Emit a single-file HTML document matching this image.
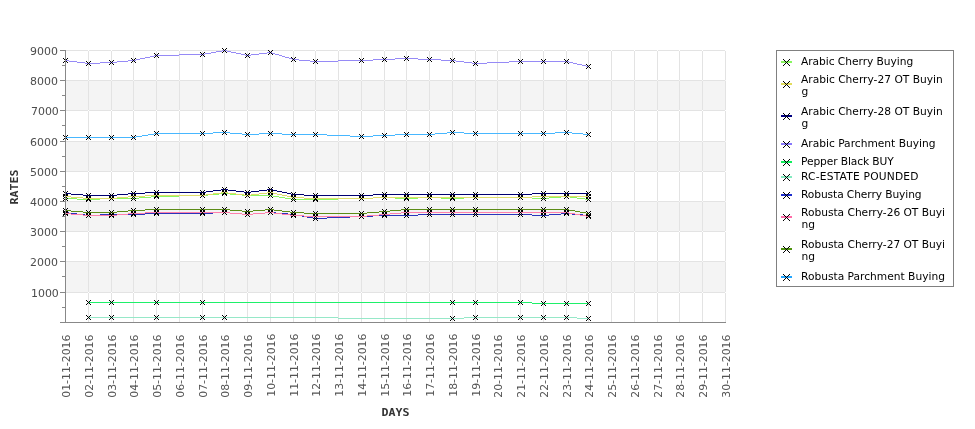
<!DOCTYPE html>
<html lang="en">
<head>
<meta charset="utf-8">
<title>Rates chart</title>
<style>
html,body{margin:0;padding:0;background:#fff;}
body{width:975px;height:429px;overflow:hidden;}
svg{display:block;}
.tick{font-family:"DejaVu Sans","Liberation Sans",sans-serif;font-size:10.67px;fill:#4c4c4c;}
.xt{fill:#545454;}
.leg{font-family:"DejaVu Sans","Liberation Sans",sans-serif;font-size:10.67px;fill:#000;}
.ttl{font-family:"DejaVu Sans Mono","Liberation Mono",monospace;font-weight:bold;font-size:11px;fill:#333;}
</style>
</head>
<body>
<svg width="975" height="429" viewBox="0 0 975 429">
<rect width="975" height="429" fill="#fff"/>

<g shape-rendering="crispEdges">
<rect x="65" y="261" width="661" height="31" fill="#f4f4f4"/>
<rect x="65" y="201" width="661" height="30" fill="#f4f4f4"/>
<rect x="65" y="141" width="661" height="30" fill="#f4f4f4"/>
<rect x="65" y="80" width="661" height="30" fill="#f4f4f4"/>
<path d="M65 322h661v1h-661zM65 292h661v1h-661zM65 261h661v1h-661zM65 231h661v1h-661zM65 201h661v1h-661zM65 171h661v1h-661zM65 141h661v1h-661zM65 110h661v1h-661zM65 80h661v1h-661zM65 50h661v1h-661zM65 50v272h1v-272zM88 50v272h1v-272zM111 50v272h1v-272zM133 50v272h1v-272zM156 50v272h1v-272zM179 50v272h1v-272zM202 50v272h1v-272zM224 50v272h1v-272zM247 50v272h1v-272zM270 50v272h1v-272zM293 50v272h1v-272zM315 50v272h1v-272zM338 50v272h1v-272zM361 50v272h1v-272zM384 50v272h1v-272zM406 50v272h1v-272zM429 50v272h1v-272zM452 50v272h1v-272zM475 50v272h1v-272zM497 50v272h1v-272zM520 50v272h1v-272zM543 50v272h1v-272zM566 50v272h1v-272zM588 50v272h1v-272zM611 50v272h1v-272zM634 50v272h1v-272zM657 50v272h1v-272zM679 50v272h1v-272zM702 50v272h1v-272zM725 50v272h1v-272z" fill="#e3e3e3"/>
<defs><path id="m" d="M-2 -2h1v1h-1zM-1 -1h1v1h-1zM0 0h1v1h-1zM1 1h1v1h-1zM2 2h1v1h-1zM2 -2h1v1h-1zM1 -1h1v1h-1zM-1 1h1v1h-1zM-2 2h1v1h-1z" fill="#000"/><path id="M" d="M-3 -3h1v1h-1zM-2 -2h1v1h-1zM-1 -1h1v1h-1zM0 0h1v1h-1zM1 1h1v1h-1zM2 2h1v1h-1zM3 3h1v1h-1zM3 -3h1v1h-1zM2 -2h1v1h-1zM1 -1h1v1h-1zM-1 1h1v1h-1zM-2 2h1v1h-1zM-3 3h1v1h-1z" fill="#000"/></defs>
<path d="M65 198h12v1h-12zM77 199h23v1h-23zM100 198h39v1h-39zM139 197h12v1h-12zM151 196h28v1h-28zM179 195h29v1h-29zM208 194h11v1h-11zM219 193h11v1h-11zM230 194h12v1h-12zM242 195h31v1h-31zM273 196h6v1h-6zM279 197h6v1h-6zM285 198h6v1h-6zM291 199h47v1h-47zM338 198h35v1h-35zM373 197h22v1h-22zM395 198h23v1h-23zM418 197h23v1h-23zM441 198h23v1h-23zM464 197h68v1h-68zM532 198h17v1h-17zM549 197h12v1h-12zM561 196h9v1h-9zM570 197h7v1h-7zM577 198h8v1h-8zM585 199h4v1h-4z" fill="#8cf864"/>
<use href="#m" x="65" y="198"/>
<use href="#m" x="88" y="199"/>
<use href="#m" x="111" y="198"/>
<use href="#m" x="133" y="198"/>
<use href="#m" x="156" y="196"/>
<use href="#m" x="202" y="195"/>
<use href="#m" x="224" y="193"/>
<use href="#m" x="247" y="195"/>
<use href="#m" x="270" y="195"/>
<use href="#m" x="293" y="199"/>
<use href="#m" x="315" y="199"/>
<use href="#m" x="361" y="198"/>
<use href="#m" x="384" y="197"/>
<use href="#m" x="406" y="198"/>
<use href="#m" x="429" y="197"/>
<use href="#m" x="452" y="198"/>
<use href="#m" x="475" y="197"/>
<use href="#m" x="520" y="197"/>
<use href="#m" x="543" y="198"/>
<use href="#m" x="566" y="196"/>
<use href="#m" x="588" y="199"/>
<path d="M65 196h6v1h-6zM71 197h12v1h-12zM83 198h34v1h-34zM117 197h11v1h-11zM128 196h17v1h-17zM145 195h61v1h-61zM206 194h7v1h-7zM213 193h8v1h-8zM221 192h7v1h-7zM228 193h8v1h-8zM236 194h8v1h-8zM244 195h7v1h-7zM251 194h8v1h-8zM259 193h8v1h-8zM267 192h6v1h-6zM273 193h4v1h-4zM277 194h5v1h-5zM282 195h5v1h-5zM287 196h4v1h-4zM291 197h13v1h-13zM304 198h69v1h-69zM373 197h159v1h-159zM532 196h57v1h-57z" fill="#e0dc6a"/>
<use href="#m" x="65" y="196"/>
<use href="#m" x="88" y="198"/>
<use href="#m" x="111" y="198"/>
<use href="#m" x="133" y="196"/>
<use href="#m" x="156" y="195"/>
<use href="#m" x="202" y="195"/>
<use href="#m" x="224" y="192"/>
<use href="#m" x="247" y="195"/>
<use href="#m" x="270" y="192"/>
<use href="#m" x="293" y="197"/>
<use href="#m" x="315" y="198"/>
<use href="#m" x="361" y="198"/>
<use href="#m" x="384" y="197"/>
<use href="#m" x="406" y="197"/>
<use href="#m" x="429" y="197"/>
<use href="#m" x="452" y="197"/>
<use href="#m" x="475" y="197"/>
<use href="#m" x="520" y="197"/>
<use href="#m" x="543" y="196"/>
<use href="#m" x="566" y="196"/>
<use href="#m" x="588" y="196"/>
<path d="M65 193h6v1h-6zM71 194h12v1h-12zM83 195h34v1h-34zM117 194h11v1h-11zM128 193h17v1h-17zM145 192h61v1h-61zM206 191h7v1h-7zM213 190h8v1h-8zM221 189h7v1h-7zM228 190h8v1h-8zM236 191h8v1h-8zM244 192h7v1h-7zM251 191h8v1h-8zM259 190h8v1h-8zM267 189h6v1h-6zM273 190h4v1h-4zM277 191h5v1h-5zM282 192h5v1h-5zM287 193h4v1h-4zM291 194h13v1h-13zM304 195h69v1h-69zM373 194h159v1h-159zM532 193h57v1h-57z" fill="#000070"/>
<use href="#m" x="65" y="193"/>
<use href="#m" x="88" y="195"/>
<use href="#m" x="111" y="195"/>
<use href="#m" x="133" y="193"/>
<use href="#m" x="156" y="192"/>
<use href="#m" x="202" y="192"/>
<use href="#m" x="224" y="189"/>
<use href="#m" x="247" y="192"/>
<use href="#m" x="270" y="189"/>
<use href="#m" x="293" y="194"/>
<use href="#m" x="315" y="195"/>
<use href="#m" x="361" y="195"/>
<use href="#m" x="384" y="194"/>
<use href="#m" x="406" y="194"/>
<use href="#m" x="429" y="194"/>
<use href="#m" x="452" y="194"/>
<use href="#m" x="475" y="194"/>
<use href="#m" x="520" y="194"/>
<use href="#m" x="543" y="193"/>
<use href="#m" x="566" y="193"/>
<use href="#m" x="588" y="193"/>
<path d="M65 60h4v1h-4zM69 61h8v1h-8zM77 62h8v1h-8zM85 63h15v1h-15zM100 62h17v1h-17zM117 61h11v1h-11zM128 60h8v1h-8zM136 59h4v1h-4zM140 58h5v1h-5zM145 57h5v1h-5zM150 56h4v1h-4zM154 55h25v1h-25zM179 54h26v1h-26zM205 53h6v1h-6zM211 52h5v1h-5zM216 51h6v1h-6zM222 50h5v1h-5zM227 51h4v1h-4zM231 52h5v1h-5zM236 53h5v1h-5zM241 54h4v1h-4zM245 55h6v1h-6zM251 54h8v1h-8zM259 53h8v1h-8zM267 52h5v1h-5zM272 53h3v1h-3zM275 54h4v1h-4zM279 55h3v1h-3zM282 56h3v1h-3zM285 57h4v1h-4zM289 58h3v1h-3zM292 59h7v1h-7zM299 60h11v1h-11zM310 61h28v1h-28zM338 60h35v1h-35zM373 59h22v1h-22zM395 58h23v1h-23zM418 59h23v1h-23zM441 60h15v1h-15zM456 61h8v1h-8zM464 62h8v1h-8zM472 63h15v1h-15zM487 62h22v1h-22zM509 61h60v1h-60zM569 62h4v1h-4zM573 63h4v1h-4zM577 64h5v1h-5zM582 65h4v1h-4zM586 66h3v1h-3z" fill="#968af6"/>
<use href="#m" x="65" y="60"/>
<use href="#m" x="88" y="63"/>
<use href="#m" x="111" y="62"/>
<use href="#m" x="133" y="60"/>
<use href="#m" x="156" y="55"/>
<use href="#m" x="202" y="54"/>
<use href="#m" x="224" y="50"/>
<use href="#m" x="247" y="55"/>
<use href="#m" x="270" y="52"/>
<use href="#m" x="293" y="59"/>
<use href="#m" x="315" y="61"/>
<use href="#m" x="361" y="60"/>
<use href="#m" x="384" y="59"/>
<use href="#m" x="406" y="58"/>
<use href="#m" x="429" y="59"/>
<use href="#m" x="452" y="60"/>
<use href="#m" x="475" y="63"/>
<use href="#m" x="520" y="61"/>
<use href="#m" x="543" y="61"/>
<use href="#m" x="566" y="61"/>
<use href="#m" x="588" y="66"/>
<path d="M88 302h444v1h-444zM532 303h57v1h-57z" fill="#1ef069"/>
<use href="#m" x="88" y="302"/>
<use href="#m" x="111" y="302"/>
<use href="#m" x="156" y="302"/>
<use href="#m" x="202" y="302"/>
<use href="#m" x="452" y="302"/>
<use href="#m" x="475" y="302"/>
<use href="#m" x="520" y="302"/>
<use href="#m" x="543" y="303"/>
<use href="#m" x="566" y="303"/>
<use href="#m" x="588" y="303"/>
<path d="M88 317h250v1h-250zM338 318h126v1h-126zM464 317h113v1h-113zM577 318h12v1h-12z" fill="#96e8c8"/>
<use href="#m" x="88" y="317"/>
<use href="#m" x="111" y="317"/>
<use href="#m" x="156" y="317"/>
<use href="#m" x="202" y="317"/>
<use href="#m" x="224" y="317"/>
<use href="#m" x="452" y="318"/>
<use href="#m" x="475" y="317"/>
<use href="#m" x="520" y="317"/>
<use href="#m" x="543" y="317"/>
<use href="#m" x="566" y="317"/>
<use href="#m" x="588" y="318"/>
<path d="M65 212h4v1h-4zM69 213h8v1h-8zM77 214h8v1h-8zM85 215h15v1h-15zM100 214h45v1h-45zM145 213h68v1h-68zM213 212h17v1h-17zM230 213h12v1h-12zM242 214h11v1h-11zM253 213h12v1h-12zM265 212h11v1h-11zM276 213h12v1h-12zM288 214h8v1h-8zM296 215h6v1h-6zM302 216h5v1h-5zM307 217h6v1h-6zM313 218h14v1h-14zM327 217h23v1h-23zM350 216h23v1h-23zM373 215h45v1h-45zM418 214h114v1h-114zM532 215h17v1h-17zM549 214h12v1h-12zM561 213h11v1h-11zM572 214h11v1h-11zM583 215h6v1h-6z" fill="#2a34bc"/>
<use href="#m" x="65" y="212"/>
<use href="#m" x="88" y="215"/>
<use href="#m" x="111" y="214"/>
<use href="#m" x="133" y="214"/>
<use href="#m" x="156" y="213"/>
<use href="#m" x="202" y="213"/>
<use href="#m" x="224" y="212"/>
<use href="#m" x="247" y="214"/>
<use href="#m" x="270" y="212"/>
<use href="#m" x="293" y="214"/>
<use href="#m" x="315" y="218"/>
<use href="#m" x="361" y="216"/>
<use href="#m" x="384" y="215"/>
<use href="#m" x="406" y="215"/>
<use href="#m" x="429" y="214"/>
<use href="#m" x="452" y="214"/>
<use href="#m" x="475" y="214"/>
<use href="#m" x="520" y="214"/>
<use href="#m" x="543" y="215"/>
<use href="#m" x="566" y="213"/>
<use href="#m" x="588" y="215"/>
<path d="M65 213h6v1h-6zM71 214h12v1h-12zM83 215h34v1h-34zM117 214h11v1h-11zM128 213h17v1h-17zM145 212h85v1h-85zM230 213h12v1h-12zM242 214h11v1h-11zM253 213h12v1h-12zM265 212h9v1h-9zM274 213h8v1h-8zM282 214h8v1h-8zM290 215h14v1h-14zM304 216h63v1h-63zM367 215h12v1h-12zM379 214h11v1h-11zM390 213h11v1h-11zM401 212h168v1h-168zM569 213h6v1h-6zM575 214h5v1h-5zM580 215h6v1h-6zM586 216h3v1h-3z" fill="#ff80ac"/>
<use href="#m" x="65" y="213"/>
<use href="#m" x="88" y="215"/>
<use href="#m" x="111" y="215"/>
<use href="#m" x="133" y="213"/>
<use href="#m" x="156" y="212"/>
<use href="#m" x="202" y="212"/>
<use href="#m" x="224" y="212"/>
<use href="#m" x="247" y="214"/>
<use href="#m" x="270" y="212"/>
<use href="#m" x="293" y="215"/>
<use href="#m" x="315" y="216"/>
<use href="#m" x="361" y="216"/>
<use href="#m" x="384" y="214"/>
<use href="#m" x="406" y="212"/>
<use href="#m" x="429" y="212"/>
<use href="#m" x="452" y="212"/>
<use href="#m" x="475" y="212"/>
<use href="#m" x="520" y="212"/>
<use href="#m" x="543" y="212"/>
<use href="#m" x="566" y="212"/>
<use href="#m" x="588" y="216"/>
<path d="M65 210h6v1h-6zM71 211h12v1h-12zM83 212h34v1h-34zM117 211h11v1h-11zM128 210h17v1h-17zM145 209h85v1h-85zM230 210h12v1h-12zM242 211h11v1h-11zM253 210h12v1h-12zM265 209h9v1h-9zM274 210h8v1h-8zM282 211h8v1h-8zM290 212h14v1h-14zM304 213h63v1h-63zM367 212h12v1h-12zM379 211h11v1h-11zM390 210h11v1h-11zM401 209h168v1h-168zM569 210h6v1h-6zM575 211h5v1h-5zM580 212h6v1h-6zM586 213h3v1h-3z" fill="#5c8c16"/>
<use href="#m" x="65" y="210"/>
<use href="#m" x="88" y="212"/>
<use href="#m" x="111" y="212"/>
<use href="#m" x="133" y="210"/>
<use href="#m" x="156" y="209"/>
<use href="#m" x="202" y="209"/>
<use href="#m" x="224" y="209"/>
<use href="#m" x="247" y="211"/>
<use href="#m" x="270" y="209"/>
<use href="#m" x="293" y="212"/>
<use href="#m" x="315" y="213"/>
<use href="#m" x="361" y="213"/>
<use href="#m" x="384" y="211"/>
<use href="#m" x="406" y="209"/>
<use href="#m" x="429" y="209"/>
<use href="#m" x="452" y="209"/>
<use href="#m" x="475" y="209"/>
<use href="#m" x="520" y="209"/>
<use href="#m" x="543" y="209"/>
<use href="#m" x="566" y="209"/>
<use href="#m" x="588" y="213"/>
<path d="M65 137h71v1h-71zM136 136h6v1h-6zM142 135h6v1h-6zM148 134h6v1h-6zM154 133h59v1h-59zM213 132h17v1h-17zM230 133h12v1h-12zM242 134h17v1h-17zM259 133h23v1h-23zM282 134h45v1h-45zM327 135h23v1h-23zM350 136h23v1h-23zM373 135h22v1h-22zM395 134h40v1h-40zM435 133h12v1h-12zM447 132h17v1h-17zM464 133h91v1h-91zM555 132h17v1h-17zM572 133h11v1h-11zM583 134h6v1h-6z" fill="#48b7ff"/>
<use href="#m" x="65" y="137"/>
<use href="#m" x="88" y="137"/>
<use href="#m" x="111" y="137"/>
<use href="#m" x="133" y="137"/>
<use href="#m" x="156" y="133"/>
<use href="#m" x="202" y="133"/>
<use href="#m" x="224" y="132"/>
<use href="#m" x="247" y="134"/>
<use href="#m" x="270" y="133"/>
<use href="#m" x="293" y="134"/>
<use href="#m" x="315" y="134"/>
<use href="#m" x="361" y="136"/>
<use href="#m" x="384" y="135"/>
<use href="#m" x="406" y="134"/>
<use href="#m" x="429" y="134"/>
<use href="#m" x="452" y="132"/>
<use href="#m" x="475" y="133"/>
<use href="#m" x="520" y="133"/>
<use href="#m" x="543" y="133"/>
<use href="#m" x="566" y="132"/>
<use href="#m" x="588" y="134"/>
<path d="M65 50h1v273h-1zM60 322h666v1h-666zM60 292h5v1h-5zM60 261h5v1h-5zM60 231h5v1h-5zM60 201h5v1h-5zM60 171h5v1h-5zM60 141h5v1h-5zM60 110h5v1h-5zM60 80h5v1h-5zM60 50h5v1h-5zM62 307h3v1h-3zM62 276h3v1h-3zM62 246h3v1h-3zM62 216h3v1h-3zM62 186h3v1h-3zM62 156h3v1h-3zM62 125h3v1h-3zM62 95h3v1h-3zM62 65h3v1h-3z" fill="#888"/>
</g>
<text class="tick" x="30.95" y="297" textLength="27.9" lengthAdjust="spacingAndGlyphs">1000</text>
<text class="tick" x="30.05" y="266" textLength="27.9" lengthAdjust="spacingAndGlyphs">2000</text>
<text class="tick" x="30.05" y="236" textLength="27.9" lengthAdjust="spacingAndGlyphs">3000</text>
<text class="tick" x="30.05" y="206" textLength="27.9" lengthAdjust="spacingAndGlyphs">4000</text>
<text class="tick" x="30.05" y="176" textLength="27.9" lengthAdjust="spacingAndGlyphs">5000</text>
<text class="tick" x="30.05" y="146" textLength="27.9" lengthAdjust="spacingAndGlyphs">6000</text>
<text class="tick" x="30.95" y="115" textLength="27.9" lengthAdjust="spacingAndGlyphs">7000</text>
<text class="tick" x="30.05" y="85" textLength="27.9" lengthAdjust="spacingAndGlyphs">8000</text>
<text class="tick" x="30.05" y="55" textLength="27.9" lengthAdjust="spacingAndGlyphs">9000</text>
<text class="tick xt" transform="translate(70 334.6) rotate(-90)" text-anchor="end" textLength="63.1" lengthAdjust="spacingAndGlyphs">01-11-2016</text>
<text class="tick xt" transform="translate(93 334.6) rotate(-90)" text-anchor="end" textLength="63.1" lengthAdjust="spacingAndGlyphs">02-11-2016</text>
<text class="tick xt" transform="translate(116 334.6) rotate(-90)" text-anchor="end" textLength="63.1" lengthAdjust="spacingAndGlyphs">03-11-2016</text>
<text class="tick xt" transform="translate(138 334.6) rotate(-90)" text-anchor="end" textLength="63.1" lengthAdjust="spacingAndGlyphs">04-11-2016</text>
<text class="tick xt" transform="translate(161 334.6) rotate(-90)" text-anchor="end" textLength="63.1" lengthAdjust="spacingAndGlyphs">05-11-2016</text>
<text class="tick xt" transform="translate(184 334.6) rotate(-90)" text-anchor="end" textLength="63.1" lengthAdjust="spacingAndGlyphs">06-11-2016</text>
<text class="tick xt" transform="translate(207 334.6) rotate(-90)" text-anchor="end" textLength="63.1" lengthAdjust="spacingAndGlyphs">07-11-2016</text>
<text class="tick xt" transform="translate(229 334.6) rotate(-90)" text-anchor="end" textLength="63.1" lengthAdjust="spacingAndGlyphs">08-11-2016</text>
<text class="tick xt" transform="translate(252 334.6) rotate(-90)" text-anchor="end" textLength="63.1" lengthAdjust="spacingAndGlyphs">09-11-2016</text>
<text class="tick xt" transform="translate(275 333.6) rotate(-90)" text-anchor="end" textLength="63.1" lengthAdjust="spacingAndGlyphs">10-11-2016</text>
<text class="tick xt" transform="translate(298 333.6) rotate(-90)" text-anchor="end" textLength="63.1" lengthAdjust="spacingAndGlyphs">11-11-2016</text>
<text class="tick xt" transform="translate(320 333.6) rotate(-90)" text-anchor="end" textLength="63.1" lengthAdjust="spacingAndGlyphs">12-11-2016</text>
<text class="tick xt" transform="translate(343 333.6) rotate(-90)" text-anchor="end" textLength="63.1" lengthAdjust="spacingAndGlyphs">13-11-2016</text>
<text class="tick xt" transform="translate(366 333.6) rotate(-90)" text-anchor="end" textLength="63.1" lengthAdjust="spacingAndGlyphs">14-11-2016</text>
<text class="tick xt" transform="translate(389 333.6) rotate(-90)" text-anchor="end" textLength="63.1" lengthAdjust="spacingAndGlyphs">15-11-2016</text>
<text class="tick xt" transform="translate(411 333.6) rotate(-90)" text-anchor="end" textLength="63.1" lengthAdjust="spacingAndGlyphs">16-11-2016</text>
<text class="tick xt" transform="translate(434 333.6) rotate(-90)" text-anchor="end" textLength="63.1" lengthAdjust="spacingAndGlyphs">17-11-2016</text>
<text class="tick xt" transform="translate(457 333.6) rotate(-90)" text-anchor="end" textLength="63.1" lengthAdjust="spacingAndGlyphs">18-11-2016</text>
<text class="tick xt" transform="translate(480 333.6) rotate(-90)" text-anchor="end" textLength="63.1" lengthAdjust="spacingAndGlyphs">19-11-2016</text>
<text class="tick xt" transform="translate(502 334.6) rotate(-90)" text-anchor="end" textLength="63.1" lengthAdjust="spacingAndGlyphs">20-11-2016</text>
<text class="tick xt" transform="translate(525 334.6) rotate(-90)" text-anchor="end" textLength="63.1" lengthAdjust="spacingAndGlyphs">21-11-2016</text>
<text class="tick xt" transform="translate(548 334.6) rotate(-90)" text-anchor="end" textLength="63.1" lengthAdjust="spacingAndGlyphs">22-11-2016</text>
<text class="tick xt" transform="translate(571 334.6) rotate(-90)" text-anchor="end" textLength="63.1" lengthAdjust="spacingAndGlyphs">23-11-2016</text>
<text class="tick xt" transform="translate(593 334.6) rotate(-90)" text-anchor="end" textLength="63.1" lengthAdjust="spacingAndGlyphs">24-11-2016</text>
<text class="tick xt" transform="translate(616 334.6) rotate(-90)" text-anchor="end" textLength="63.1" lengthAdjust="spacingAndGlyphs">25-11-2016</text>
<text class="tick xt" transform="translate(639 334.6) rotate(-90)" text-anchor="end" textLength="63.1" lengthAdjust="spacingAndGlyphs">26-11-2016</text>
<text class="tick xt" transform="translate(662 334.6) rotate(-90)" text-anchor="end" textLength="63.1" lengthAdjust="spacingAndGlyphs">27-11-2016</text>
<text class="tick xt" transform="translate(684 334.6) rotate(-90)" text-anchor="end" textLength="63.1" lengthAdjust="spacingAndGlyphs">28-11-2016</text>
<text class="tick xt" transform="translate(707 334.6) rotate(-90)" text-anchor="end" textLength="63.1" lengthAdjust="spacingAndGlyphs">29-11-2016</text>
<text class="tick xt" transform="translate(730 334.6) rotate(-90)" text-anchor="end" textLength="63.1" lengthAdjust="spacingAndGlyphs">30-11-2016</text>
<text class="ttl" transform="translate(18 204.4) rotate(-90)" textLength="35" lengthAdjust="spacingAndGlyphs">RATES</text>
<text class="ttl" x="381.6" y="416" textLength="28" lengthAdjust="spacingAndGlyphs">DAYS</text>
<g shape-rendering="crispEdges"><path d="M776 50h178v237h-178zM777 51v235h176v-235z" fill="#808080" fill-rule="evenodd"/>
<rect x="781" y="61" width="11" height="2" fill="#88f660"/>
<use href="#M" x="786" y="62"/>
<rect x="781" y="83" width="11" height="2" fill="#e2dc5c"/>
<use href="#M" x="786" y="84"/>
<rect x="781" y="115" width="11" height="2" fill="#000080"/>
<use href="#M" x="786" y="116"/>
<rect x="781" y="143" width="11" height="2" fill="#8878fc"/>
<use href="#M" x="786" y="144"/>
<rect x="781" y="161" width="11" height="2" fill="#10ee5c"/>
<use href="#M" x="786" y="162"/>
<rect x="781" y="176" width="11" height="2" fill="#84eac0"/>
<use href="#M" x="786" y="177"/>
<rect x="781" y="194" width="11" height="2" fill="#1c2ccc"/>
<use href="#M" x="786" y="195"/>
<rect x="781" y="216" width="11" height="2" fill="#ff6ca8"/>
<use href="#M" x="786" y="217"/>
<rect x="781" y="248" width="11" height="2" fill="#4e920e"/>
<use href="#M" x="786" y="249"/>
<rect x="781" y="276" width="11" height="2" fill="#24a6ff"/>
<use href="#M" x="786" y="277"/>
</g>
<text class="leg" x="801" y="65" textLength="112.25" lengthAdjust="spacing">Arabic Cherry Buying</text>
<text class="leg" x="801" y="83">Arabic Cherry-27 OT Buyin</text>
<text class="leg" x="801.6" y="95">g</text>
<text class="leg" x="801" y="115">Arabic Cherry-28 OT Buyin</text>
<text class="leg" x="801.6" y="127">g</text>
<text class="leg" x="801" y="147">Arabic Parchment Buying</text>
<text class="leg" x="801" y="165" textLength="92.7" lengthAdjust="spacing">Pepper Black BUY</text>
<text class="leg" x="801" y="180" textLength="117.5" lengthAdjust="spacing">RC-ESTATE POUNDED</text>
<text class="leg" x="801" y="198" textLength="120.6" lengthAdjust="spacing">Robusta Cherry Buying</text>
<text class="leg" x="801" y="216" textLength="144.0" lengthAdjust="spacing">Robusta Cherry-26 OT Buyi</text>
<text class="leg" x="801.6" y="228">ng</text>
<text class="leg" x="801" y="248" textLength="144.0" lengthAdjust="spacing">Robusta Cherry-27 OT Buyi</text>
<text class="leg" x="801.6" y="260">ng</text>
<text class="leg" x="801" y="280">Robusta Parchment Buying</text>
</svg>
</body>
</html>
